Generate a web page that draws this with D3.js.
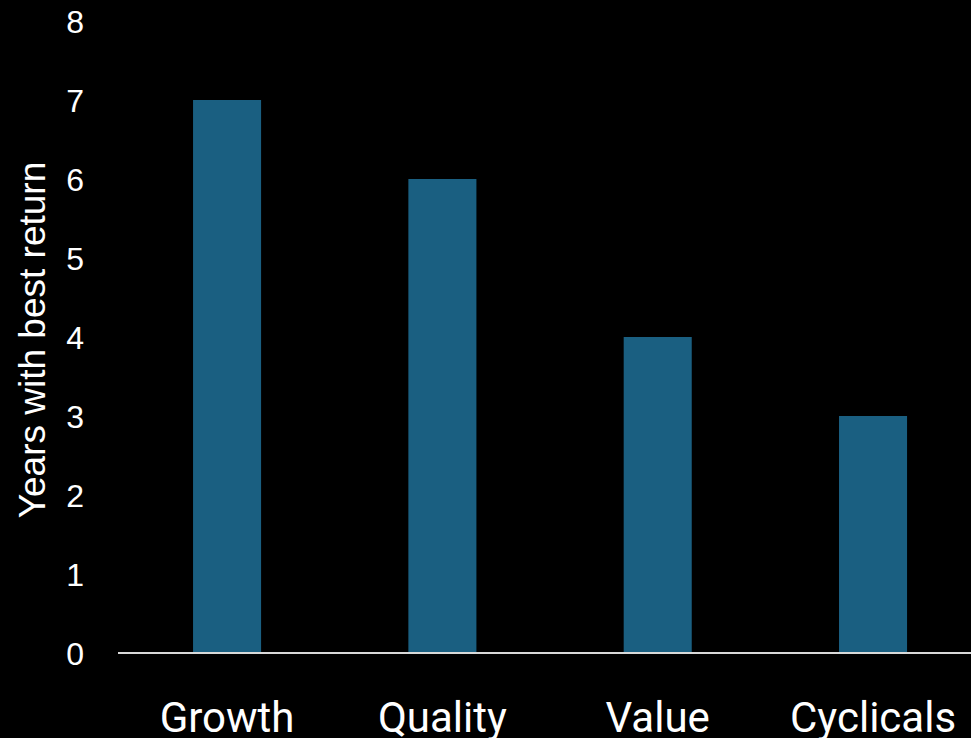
<!DOCTYPE html>
<html>
<head>
<meta charset="utf-8">
<script src="https://cdn.jsdelivr.net/npm/d3@7"></script>
<style>
  html, body { margin: 0; padding: 0; background: #000; }
  svg { display: block; }
</style>
</head>
<body>
<div id="chart"></div>
<script>
const categories = ["Growth", "Quality", "Value", "Cyclicals"];
const values = [7, 6, 4, 3];
const yTicks = [0, 1, 2, 3, 4, 5, 6, 7, 8];
const yTitle = "Years with best return";

const width = 971, height = 738;
const tickFont = "'Liberation Sans', Arial, sans-serif";
const catFont = "Roboto, sans-serif";

const svg = d3.select("#chart").append("svg")
    .attr("width", width)
    .attr("height", height)
    .style("background", "#000");

const x = d3.scaleBand()
    .domain(categories)
    .range([119.4, 980.7])
    .paddingInner(0.684)
    .paddingOuter(0.342);

const y = d3.scaleLinear()
    .domain([0, 8])
    .range([653, 21]);

// bars
svg.selectAll("rect.bar")
    .data(values)
    .join("rect")
    .attr("class", "bar")
    .attr("x", (d, i) => x(categories[i]))
    .attr("y", d => y(d))
    .attr("width", x.bandwidth())
    .attr("height", d => y(0) - y(d))
    .attr("fill", "#1a5f81");

// baseline
svg.append("line")
    .attr("x1", 118).attr("x2", width)
    .attr("y1", y(0)).attr("y2", y(0))
    .attr("stroke", "#d9d9d9")
    .attr("stroke-width", 2);

// y axis labels
const yAxis = svg.append("g")
    .attr("transform", "translate(84,0)")
    .call(d3.axisLeft(y).tickValues(yTicks).tickSize(0).tickPadding(0));
yAxis.select(".domain").remove();
yAxis.selectAll("text")
    .attr("fill", "#fff")
    .attr("dy", "0.36em")
    .style("font", `32px ${tickFont}`);

// x axis labels
const xAxis = svg.append("g")
    .attr("transform", `translate(0,${y(0)})`)
    .call(d3.axisBottom(x).tickSize(0).tickPadding(0));
xAxis.select(".domain").remove();
xAxis.selectAll("text")
    .attr("fill", "#fff")
    .attr("dy", "0")
    .attr("y", 79)
    .style("font", `42px ${catFont}`);

// y title
svg.append("text")
    .attr("transform", "translate(45,340) rotate(-90)")
    .attr("text-anchor", "middle")
    .attr("fill", "#fff")
    .style("font", `37px ${tickFont}`)
    .text(yTitle);
</script>
</body>
</html>
